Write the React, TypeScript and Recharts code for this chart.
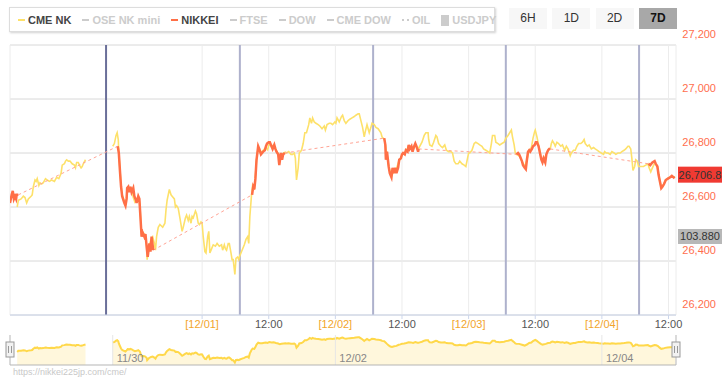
import { LineChart, Line, AreaChart, Area, XAxis, YAxis, CartesianGrid, ReferenceLine } from 'recharts';

// ordinal hours, 0 = 11/30 00:00 JST
const T_MIN = -10.6;
const T_MAX = 109.35;

const FONT = '"Liberation Sans", Arial, sans-serif';

const xTicks = [24, 36, 48, 60, 72, 84, 96, 108];
const xTickLabels = ['[12/01]', '12:00', '[12/02]', '12:00', '[12/03]', '12:00', '[12/04]', '12:00'];
const yTicks = [26200, 26400, 26600, 26800, 27000, 27200];
const breakLines = [6.7, 30.8, 54.8, 78.7, 102.7];

const navTicks = [7.9, 48, 96];
const navLabels = ['11/30', '12/02', '12/04'];

const legendNames = ['CME NK', 'OSE NK mini', 'NIKKEI', 'FTSE', 'DOW', 'CME DOW', 'OIL', 'USDJPY'];
const legendColors = ['#fde16a', '#cccccc', '#ff6f47', '#cccccc', '#cccccc', '#cccccc', '#cccccc', '#cccccc'];
const legendActive = [true, false, true, false, false, false, false, false];

const rangeButtons = ['6H', '1D', '2D', '7D'];
const selectedRange = '7D';

const usdjpyLast = '103.880';

// CME NK futures (yellow) - friday part
const cmeFri: [number, number][] = [
  [-9.3, 26600], [-9.1, 26625], [-8.6, 26630], [-8.2, 26640], [-7.9, 26635], [-7.6, 26615], [-7.3, 26630],
  [-6.8, 26640], [-6.6, 26645], [-6.4, 26675], [-6.1, 26700], [-5.9, 26695], [-5.7, 26705], [-5.4, 26680],
  [-5.2, 26690], [-4.9, 26685], [-4.6, 26690], [-4.2, 26705], [-3.9, 26700], [-3.5, 26695], [-3.1, 26700],
  [-2.6, 26695], [-2.2, 26710], [-1.8, 26705], [-1.4, 26725], [-1.2, 26755], [-0.8, 26760], [-0.6, 26770],
  [-0.4, 26775], [-0.1, 26770], [0.2, 26770], [0.6, 26760], [1.0, 26755], [1.2, 26745], [1.4, 26765],
  [1.7, 26765], [1.9, 26755], [2.2, 26745], [2.4, 26750], [2.6, 26760], [3.0, 26775],
];

// CME NK futures - this week
const cmeWeek: [number, number][] = [
  [7.9, 26825], [8.2, 26835], [8.5, 26865], [8.7, 26875], [8.9, 26850], [9.0, 26800], [9.2, 26740], [9.4, 26680],
  [9.6, 26645], [10.0, 26620], [10.2, 26610], [10.4, 26635], [10.6, 26665], [10.9, 26660], [11.1, 26670],
  [11.4, 26655], [11.6, 26635], [11.9, 26618], [12.2, 26625], [12.5, 26640], [12.8, 26610], [12.9, 26565],
  [13.1, 26500], [13.4, 26505], [13.7, 26495], [14.0, 26460], [14.1, 26405], [14.4, 26450], [14.8, 26480],
  [15.1, 26490], [15.4, 26465], [15.6, 26440], [15.8, 26490], [16.1, 26525], [16.4, 26535], [16.9, 26525],
  [17.3, 26540], [17.5, 26590], [17.7, 26625], [18.1, 26665], [18.4, 26645], [18.6, 26640], [19.0, 26630],
  [19.2, 26600], [19.4, 26605], [19.7, 26595], [20.0, 26560], [20.4, 26510], [20.6, 26525], [21.0, 26560],
  [21.2, 26570], [21.5, 26550], [21.7, 26565], [22.0, 26540], [22.2, 26565], [22.4, 26560], [22.8, 26585],
  [23.0, 26575], [23.3, 26540], [23.5, 26535], [23.8, 26545], [24.0, 26540], [24.2, 26490], [24.5, 26435],
  [24.7, 26430], [25.0, 26490], [25.2, 26510], [25.4, 26430], [25.7, 26445], [26.0, 26460], [26.4, 26455],
  [26.7, 26465], [27.1, 26455], [27.5, 26460], [27.7, 26440], [28.0, 26460], [28.2, 26445], [28.4, 26440],
  [28.7, 26465], [28.9, 26465], [29.2, 26430], [29.4, 26405], [29.6, 26405], [29.9, 26350], [30.1, 26410],
  [30.4, 26415], [30.6, 26405], [30.8, 26420], [31.2, 26440], [31.6, 26460], [31.9, 26480], [32.2, 26490],
  [32.4, 26465], [32.6, 26565], [32.9, 26645], [33.1, 26680], [33.4, 26670], [33.6, 26715], [33.8, 26775],
  [34.1, 26820], [34.4, 26805], [34.8, 26805], [35.2, 26815], [35.5, 26820], [35.8, 26812], [36.1, 26835],
  [36.5, 26822], [36.9, 26830], [37.3, 26812], [37.7, 26798], [38.0, 26780], [38.3, 26792], [38.7, 26800],
  [39.0, 26803], [39.2, 26800], [39.6, 26805], [40.0, 26795], [40.3, 26795], [40.6, 26800], [40.8, 26780],
  [41.0, 26700], [41.3, 26745], [41.5, 26800], [41.9, 26810], [42.2, 26835], [42.5, 26875], [42.8, 26875],
  [43.2, 26905], [43.4, 26930], [43.7, 26910], [43.9, 26930], [44.2, 26915], [44.5, 26910], [44.9, 26905],
  [45.2, 26900], [45.6, 26890], [46.0, 26900], [46.2, 26885], [46.5, 26905], [46.9, 26910], [47.2, 26910],
  [47.5, 26905], [47.9, 26915], [48.1, 26910], [48.3, 26930], [48.7, 26915], [49.1, 26935], [49.3, 26940],
  [49.6, 26920], [49.9, 26910], [50.3, 26920], [50.6, 26925], [51.0, 26930], [51.4, 26935], [51.7, 26940],
  [52.1, 26945], [52.3, 26945], [52.6, 26920], [52.9, 26895], [53.2, 26860], [53.4, 26880], [53.7, 26905],
  [53.9, 26890], [54.1, 26875], [54.4, 26895], [54.6, 26910], [55.0, 26905], [55.3, 26895], [55.7, 26890],
  [56.2, 26875], [56.4, 26860], [56.6, 26855], [56.8, 26852], [57.0, 26830], [57.3, 26790], [57.6, 26752],
  [57.9, 26728], [58.2, 26718], [58.6, 26735], [59.0, 26742], [59.4, 26768], [59.7, 26778], [60.0, 26792],
  [60.4, 26800], [60.8, 26810], [61.2, 26826], [61.6, 26825], [62.0, 26812], [62.4, 26832], [62.8, 26815],
  [63.0, 26818], [63.2, 26825], [63.6, 26840], [64.0, 26865], [64.3, 26875], [64.7, 26875], [64.8, 26850],
  [65.0, 26830], [65.4, 26825], [65.7, 26840], [66.1, 26865], [66.3, 26860], [66.6, 26835], [67.0, 26825],
  [67.3, 26820], [67.7, 26830], [68.0, 26810], [68.4, 26805], [68.8, 26805], [69.1, 26800], [69.4, 26770],
  [69.7, 26760], [70.1, 26760], [70.4, 26770], [70.8, 26760], [71.2, 26755], [71.5, 26750], [71.7, 26770],
  [72.0, 26800], [72.2, 26800], [72.6, 26810], [73.0, 26835], [73.3, 26840], [73.7, 26835], [74.0, 26830],
  [74.4, 26825], [74.7, 26815], [75.1, 26810], [75.5, 26805], [75.8, 26800], [76.1, 26835], [76.3, 26865],
  [76.7, 26865], [76.9, 26840], [77.3, 26835], [77.6, 26830], [78.0, 26835], [78.4, 26840], [78.7, 26855],
  [79.1, 26865], [79.4, 26875], [79.7, 26885], [79.9, 26860], [80.2, 26830], [80.4, 26800], [80.6, 26795],
  [81.1, 26790], [81.6, 26770], [82.1, 26750], [82.5, 26775], [82.9, 26810], [83.3, 26820], [83.6, 26855],
  [83.9, 26880], [84.0, 26885], [84.3, 26860], [84.6, 26830], [85.0, 26790], [85.3, 26770], [85.6, 26780],
  [85.9, 26790], [86.3, 26810], [86.7, 26815], [86.9, 26835], [87.1, 26845], [87.4, 26835], [87.6, 26825],
  [87.9, 26840], [88.2, 26835], [88.6, 26825], [88.9, 26830], [89.3, 26810], [89.6, 26825], [89.9, 26815],
  [90.3, 26790], [90.5, 26800], [90.9, 26810], [91.2, 26810], [91.5, 26825], [91.8, 26835], [92.2, 26835],
  [92.5, 26840], [92.8, 26850], [93.0, 26835], [93.4, 26825], [93.7, 26830], [94.1, 26815], [94.5, 26820],
  [94.8, 26815], [95.2, 26810], [95.5, 26805], [95.9, 26800], [96.3, 26795], [96.5, 26805], [96.8, 26800],
  [97.1, 26800], [97.5, 26795], [97.8, 26805], [98.2, 26800], [98.5, 26795], [98.9, 26800], [99.3, 26800],
  [99.6, 26805], [100.0, 26810], [100.3, 26815], [100.7, 26825], [100.9, 26825], [101.2, 26815], [101.4, 26780],
  [101.6, 26735], [101.9, 26750], [102.1, 26775], [102.4, 26770], [102.6, 26750], [103.0, 26750], [103.5, 26750],
  [103.9, 26755], [104.3, 26760], [104.5, 26745], [104.8, 26730], [105.1, 26745], [105.5, 26762], [105.8, 26758],
  [106.1, 26740], [106.4, 26700], [106.7, 26672], [107.0, 26678], [107.4, 26695], [107.8, 26705], [108.3, 26712],
  [108.8, 26710], [109.2, 26712],
];

// NIKKEI 225 cash sessions (red)
const nk1: [number, number][] = [
  [-10.6, 26615], [-10.3, 26645], [-10.1, 26660], [-9.9, 26630], [-9.7, 26640], [-9.5, 26630], [-9.4, 26645], [-9.1, 26645],
];
const nk2: [number, number][] = [
  [8.8, 26825], [9.0, 26800], [9.2, 26735], [9.4, 26675], [9.6, 26640], [10.0, 26615], [10.2, 26605], [10.4, 26630],
  [10.5, 26670], [10.7, 26675], [10.9, 26655], [11.1, 26675], [11.3, 26655], [11.6, 26670], [11.8, 26640], [12.1, 26625],
  [12.2, 26615], [12.5, 26640], [12.7, 26630], [12.9, 26560], [13.1, 26490], [13.3, 26505], [13.6, 26490], [13.8, 26500],
  [14.0, 26455], [14.2, 26415], [14.5, 26465], [14.7, 26435], [14.9, 26490], [15.2, 26440],
];
const nk3: [number, number][] = [
  [33.0, 26645], [33.2, 26675], [33.4, 26665], [33.6, 26705], [33.8, 26775], [34.1, 26825], [34.3, 26815], [34.6, 26795],
  [34.8, 26800], [35.0, 26805], [35.3, 26810], [35.5, 26825], [35.7, 26835], [36.0, 26840], [36.2, 26840], [36.5, 26825],
  [36.7, 26815], [37.0, 26830], [37.2, 26815], [37.4, 26805], [37.7, 26795], [37.9, 26755], [38.2, 26800], [38.4, 26775],
  [38.6, 26795], [38.9, 26800],
];
const nk4: [number, number][] = [
  [56.8, 26855], [57.0, 26830], [57.1, 26775], [57.3, 26805], [57.6, 26750], [57.8, 26725], [58.1, 26710], [58.3, 26745],
  [58.6, 26725], [58.8, 26745], [59.0, 26725], [59.3, 26745], [59.5, 26775], [59.8, 26780], [60.0, 26795], [60.2, 26800],
  [60.5, 26795], [60.7, 26810], [61.0, 26805], [61.2, 26830], [61.4, 26815], [61.7, 26825], [61.9, 26805], [62.2, 26825],
  [62.4, 26835], [62.6, 26825], [62.9, 26805], [63.0, 26815],
];
const nk5: [number, number][] = [
  [80.6, 26795], [80.9, 26800], [81.1, 26795], [81.3, 26785], [81.6, 26770], [81.8, 26755], [82.1, 26745], [82.3, 26740],
  [82.5, 26775], [82.7, 26805], [82.9, 26810], [83.1, 26805], [83.4, 26815], [83.6, 26825], [83.9, 26830], [84.1, 26840],
  [84.3, 26840], [84.6, 26825], [84.8, 26805], [85.1, 26775], [85.3, 26765], [85.5, 26780], [85.8, 26765], [86.0, 26795],
  [86.3, 26810], [86.5, 26815], [86.7, 26815],
];
const nk6: [number, number][] = [
  [104.4, 26760], [104.7, 26755], [105.1, 26765], [105.5, 26770], [105.7, 26760], [106.0, 26750], [106.2, 26720],
  [106.5, 26690], [106.7, 26670], [106.9, 26675], [107.2, 26685], [107.5, 26700], [107.9, 26705], [108.3, 26710],
  [108.6, 26715], [108.9, 26710], [109.1, 26706.8],
];
const nikkeiSessions = [nk1, nk2, nk3, nk4, nk5, nk6];

type Row = { t: number; v: number | null };
const toRows = (pts: [number, number][]): Row[] => pts.map(([t, v]) => ({ t, v }));
const gapRow = (a: [number, number][], b: [number, number][]): Row => ({ t: (a[a.length - 1][0] + b[0][0]) / 2, v: null });

const cmeRows: Row[] = [...toRows(cmeFri), gapRow(cmeFri, cmeWeek), ...toRows(cmeWeek)];

const nikkeiRows: Row[] = nikkeiSessions.flatMap((s, i) =>
  i === 0 ? toRows(s) : [gapRow(nikkeiSessions[i - 1], s), ...toRows(s)]
);

// dashed link from each close to the next open
const bridgeRows: Row[] = nikkeiSessions.slice(1).flatMap((s, i) => {
  const prev = nikkeiSessions[i];
  const a = prev[prev.length - 1];
  const b = s[0];
  const rows: Row[] = [{ t: a[0], v: a[1] }, { t: b[0], v: b[1] }];
  return i === 0 ? rows : [{ t: a[0] - 0.01, v: null }, ...rows];
});

const lastNikkei = nk6[nk6.length - 1][1];

const NAV_MIN = 26290;
const NAV_MAX = 27000;

function XTick({ x, y, payload }: any) {
  const label = xTickLabels[xTicks.indexOf(payload.value)] ?? '';
  const isDate = label.startsWith('[');
  return (
    <text x={x} y={y + 7} textAnchor="middle" fontSize={11} fontFamily={FONT} fill={isDate ? '#f2a52c' : '#555'}>
      {label}
    </text>
  );
}

function YTick({ y, payload }: any) {
  return (
    <text x={716} y={y - 7} textAnchor="end" fontSize={11} fontFamily={FONT} fill="#ff6e4e">
      {payload.value.toLocaleString('en-US')}
    </text>
  );
}

function PriceTag({ viewBox }: any) {
  const x = viewBox.x + viewBox.width + 2;
  const y = viewBox.y;
  return (
    <g>
      <rect x={x} y={y - 11.5} width={44} height={16} fill="#f03a32" />
      <text x={x + 22} y={y + 1} textAnchor="middle" fontSize={11} fontFamily={FONT} fill="#333">
        {lastNikkei.toLocaleString('en-US', { minimumFractionDigits: 1 })}
      </text>
    </g>
  );
}

function NavLabel({ viewBox, text }: any) {
  return (
    <text x={viewBox.x + 4} y={viewBox.y + viewBox.height - 3.5} fontSize={11} fontFamily={FONT} fill="#888">
      {text}
    </text>
  );
}

function Handle({ viewBox }: any) {
  const x = viewBox.x;
  const y = viewBox.y + 7;
  return (
    <g>
      <rect x={x - 4} y={y} width={8} height={15} fill="#f2f2f2" stroke="#999" strokeWidth={1} />
      <line x1={x - 1.5} x2={x - 1.5} y1={y + 4} y2={y + 11} stroke="#999" />
      <line x1={x + 1.5} x2={x + 1.5} y1={y + 4} y2={y + 11} stroke="#999" />
    </g>
  );
}

function LegendMarker({ i }: { i: number }) {
  const name = legendNames[i];
  const c = legendColors[i];
  if (name === 'USDJPY') return <span style={{ display: 'inline-block', width: 8, height: 11, background: c }} />;
  if (name === 'OIL')
    return <span style={{ display: 'inline-block', width: 7, borderTop: `2px dotted ${c}` }} />;
  return <span style={{ display: 'inline-block', width: 7, height: 2, background: c }} />;
}

export default function App() {
  return (
    <div style={{ position: 'absolute', left: 0, top: 0, width: 726, height: 380, background: '#fff', fontFamily: FONT, overflow: 'hidden' }}>
      <div style={{ position: 'absolute', left: 0, top: 0 }}>
        <LineChart width={726} height={380} margin={{ top: 45, right: 0, bottom: 45, left: 10 }}>
          <CartesianGrid horizontal vertical={false} stroke="#d8d8d8" />
          <CartesianGrid horizontal={false} vertical stroke="#ececec" />
          <XAxis
            type="number"
            dataKey="t"
            domain={[T_MIN, T_MAX]}
            ticks={xTicks}
            interval={0}
            allowDataOverflow
            height={20}
            tickSize={4}
            axisLine={{ stroke: '#ccd6eb' }}
            tickLine={{ stroke: '#ccd6eb' }}
            tick={<XTick />}
          />
          <YAxis
            orientation="right"
            domain={[26200, 27200]}
            ticks={yTicks}
            interval={0}
            allowDataOverflow
            width={50}
            axisLine={false}
            tickLine={false}
            tick={<YTick />}
          />
          {breakLines.map((t, i) => (
            <ReferenceLine key={t} x={t} stroke={i === 0 ? '#6a6f99' : '#aeb1cc'} strokeWidth={2} />
          ))}
          <Line data={cmeRows} dataKey="v" stroke="#fde16a" strokeWidth={1.6} dot={false} activeDot={false} connectNulls={false} isAnimationActive={false} />
          <Line data={bridgeRows} dataKey="v" stroke="#ffa495" strokeWidth={1} strokeDasharray="3 3" dot={false} activeDot={false} connectNulls={false} isAnimationActive={false} />
          <Line data={nikkeiRows} dataKey="v" stroke="#ff6f47" strokeWidth={2.5} dot={false} activeDot={false} connectNulls={false} isAnimationActive={false} />
          <ReferenceLine y={lastNikkei} stroke="none" label={(p: any) => <PriceTag {...p} />} />
        </LineChart>
      </div>

      {/* legend */}
      <div style={{ position: 'absolute', left: 9, top: 7, width: 486, height: 25, boxSizing: 'border-box', border: '1px solid #ddd', boxShadow: '1px 1px 2px rgba(0,0,0,0.18)', background: '#fff' }} />
      <div style={{ position: 'absolute', left: 18, top: 13, display: 'flex', alignItems: 'center', fontSize: 11, fontWeight: 'bold', lineHeight: '14px' }}>
        {legendNames.map((n, i) => (
          <div key={n} style={{ display: 'flex', alignItems: 'center', marginRight: 11 }}>
            <LegendMarker i={i} />
            <span style={{ marginLeft: 3, color: legendActive[i] ? '#444' : '#ccc' }}>{n}</span>
          </div>
        ))}
      </div>

      {/* range buttons */}
      {rangeButtons.map((b, i) => (
        <div
          key={b}
          style={{
            position: 'absolute', left: 509 + i * 43.3, top: 8, width: 38, height: 21, lineHeight: '21px', textAlign: 'center',
            fontSize: 12, background: b === selectedRange ? '#a8a8a8' : '#f7f7f7', color: b === selectedRange ? '#111' : '#333',
            fontWeight: b === selectedRange ? 'bold' : 'normal',
          }}
        >
          {b}
        </div>
      ))}

      {/* USDJPY last value tag */}
      <div style={{ position: 'absolute', left: 678, top: 229, width: 44, height: 15, lineHeight: '15px', textAlign: 'center', fontSize: 11, background: '#b8b8b8', color: '#333' }}>
        {usdjpyLast}
      </div>

      {/* navigator */}
      <div style={{ position: 'absolute', left: 0, top: 330 }}>
        <AreaChart width={726} height={40} data={cmeRows} margin={{ top: 5, right: 50, bottom: 5, left: 10 }}>
          <XAxis hide type="number" dataKey="t" domain={[T_MIN, T_MAX]} allowDataOverflow />
          <YAxis hide domain={[NAV_MIN, NAV_MAX]} allowDataOverflow />
          {navTicks.map((t, i) => (
            <ReferenceLine key={t} x={t} stroke="#e6e6e6" label={(p: any) => <NavLabel {...p} text={navLabels[i]} />} />
          ))}
          <Area dataKey="v" type="linear" stroke="#ffd84a" strokeWidth={2} fill="#fff7dc" fillOpacity={1} connectNulls={false} dot={false} activeDot={false} isAnimationActive={false} />
          <ReferenceLine y={NAV_MIN} stroke="#b5b5b5" />
          <ReferenceLine x={T_MIN} stroke="#b5b5b5" label={(p: any) => <Handle {...p} />} />
          <ReferenceLine x={T_MAX} stroke="#b5b5b5" label={(p: any) => <Handle {...p} />} />
        </AreaChart>
      </div>

      <div style={{ position: 'absolute', left: 13, top: 367, fontSize: 9, color: '#c8c8c8' }}>https://nikkei225jp.com/cme/</div>
    </div>
  );
}
